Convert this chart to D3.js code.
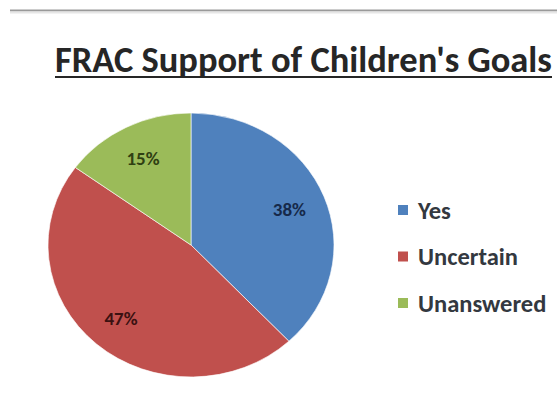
<!DOCTYPE html>
<html>
<head>
<meta charset="utf-8">
<script src="https://cdn.jsdelivr.net/npm/d3@7"></script>
<style>
  html, body { margin: 0; padding: 0; background: #fff; }
  svg { display: block; }
</style>
</head>
<body>
<svg id="chart" width="557" height="412"></svg>
<script>
// Survey answers and their shares (percent)
const categories = ["Yes", "Uncertain", "Unanswered"];
const values = [38, 47, 15];
const sliceColors = ["#4F81BD", "#C0504D", "#9BBB59"];
const labelColors = ["#16294a", "#3a1111", "#2f3f12"];
const titleText = "FRAC Support of Children's Goals";

const svg = d3.select("#chart");
const W = 557, H = 412;
const font = "Carlito, 'Open Sans', 'Liberation Sans', sans-serif";

// scale a text node's font size so it spans the given width
function fitWidth(sel, base, width) {
  sel.attr("font-size", base);
  const len = sel.node().getComputedTextLength();
  sel.attr("font-size", base * width / len);
}

// top rule
svg.append("line")
  .attr("x1", 10).attr("x2", W).attr("y1", 10.5).attr("y2", 10.5)
  .attr("stroke", "#9a9a9a").attr("stroke-width", 2);
svg.append("line")
  .attr("x1", 10).attr("x2", W).attr("y1", 12.5).attr("y2", 12.5)
  .attr("stroke", "#e6e6e6").attr("stroke-width", 2);

// title, underlined
const title = svg.append("text")
  .attr("x", 55).attr("y", 72)
  .attr("font-family", font)
  .attr("font-weight", "bold")
  .attr("fill", "#262626")
  .text(titleText);
fitWidth(title, 25, 497);
svg.append("line")
  .attr("x1", 55).attr("x2", 552)
  .attr("y1", 77).attr("y2", 77)
  .attr("stroke", "#262626").attr("stroke-width", 2);

// pie (slightly wider than tall)
const cx = 191, cy = 245, rx = 143, ry = 132;
const r = ry;
const data = categories.map((c, i) => ({ cat: c, value: values[i], i }));
const pie = d3.pie().sort(null).value(d => d.value);
const arcs = pie(data);
const arc = d3.arc().innerRadius(0).outerRadius(r);
const labelArc = d3.arc().innerRadius(r * 0.74).outerRadius(r * 0.74);

const g = svg.append("g")
  .attr("transform", `translate(${cx},${cy}) scale(${rx / r},1)`);
g.selectAll("path.slice")
  .data(arcs)
  .join("path")
  .attr("class", "slice")
  .attr("d", arc)
  .attr("fill", d => sliceColors[d.data.i])
  .attr("stroke", "#ffffff")
  .attr("stroke-width", 0.6);

// percentage labels
svg.selectAll("text.pct")
  .data(arcs)
  .join("text")
  .attr("class", "pct")
  .attr("x", d => cx + labelArc.centroid(d)[0] * (rx / r))
  .attr("y", d => cy + labelArc.centroid(d)[1])
  .attr("dy", "0.35em")
  .attr("text-anchor", "middle")
  .attr("font-family", font)
  .attr("font-weight", "bold")
  .attr("font-size", 19)
  .attr("fill", d => labelColors[d.data.i])
  .text(d => d.data.value + "%");

// legend
const legendY = d3.scalePoint().domain(categories).range([210, 303]);
const lg = svg.append("g");
lg.selectAll("rect")
  .data(data)
  .join("rect")
  .attr("x", 398).attr("y", d => legendY(d.cat) - 5)
  .attr("width", 10).attr("height", 10)
  .attr("fill", d => sliceColors[d.i]);
const lt = lg.selectAll("text")
  .data(data)
  .join("text")
  .attr("x", 418).attr("y", d => legendY(d.cat))
  .attr("dy", "0.35em")
  .attr("font-family", font)
  .attr("font-weight", "bold")
  .attr("fill", "#333840")
  .text(d => d.cat);
// size the legend so "Uncertain" spans about 100px
const probe = lt.filter(d => d.cat === "Uncertain");
probe.attr("font-size", 15);
const fs = 15 * 100 / probe.node().getComputedTextLength();
lt.attr("font-size", fs);
</script>
</body>
</html>
